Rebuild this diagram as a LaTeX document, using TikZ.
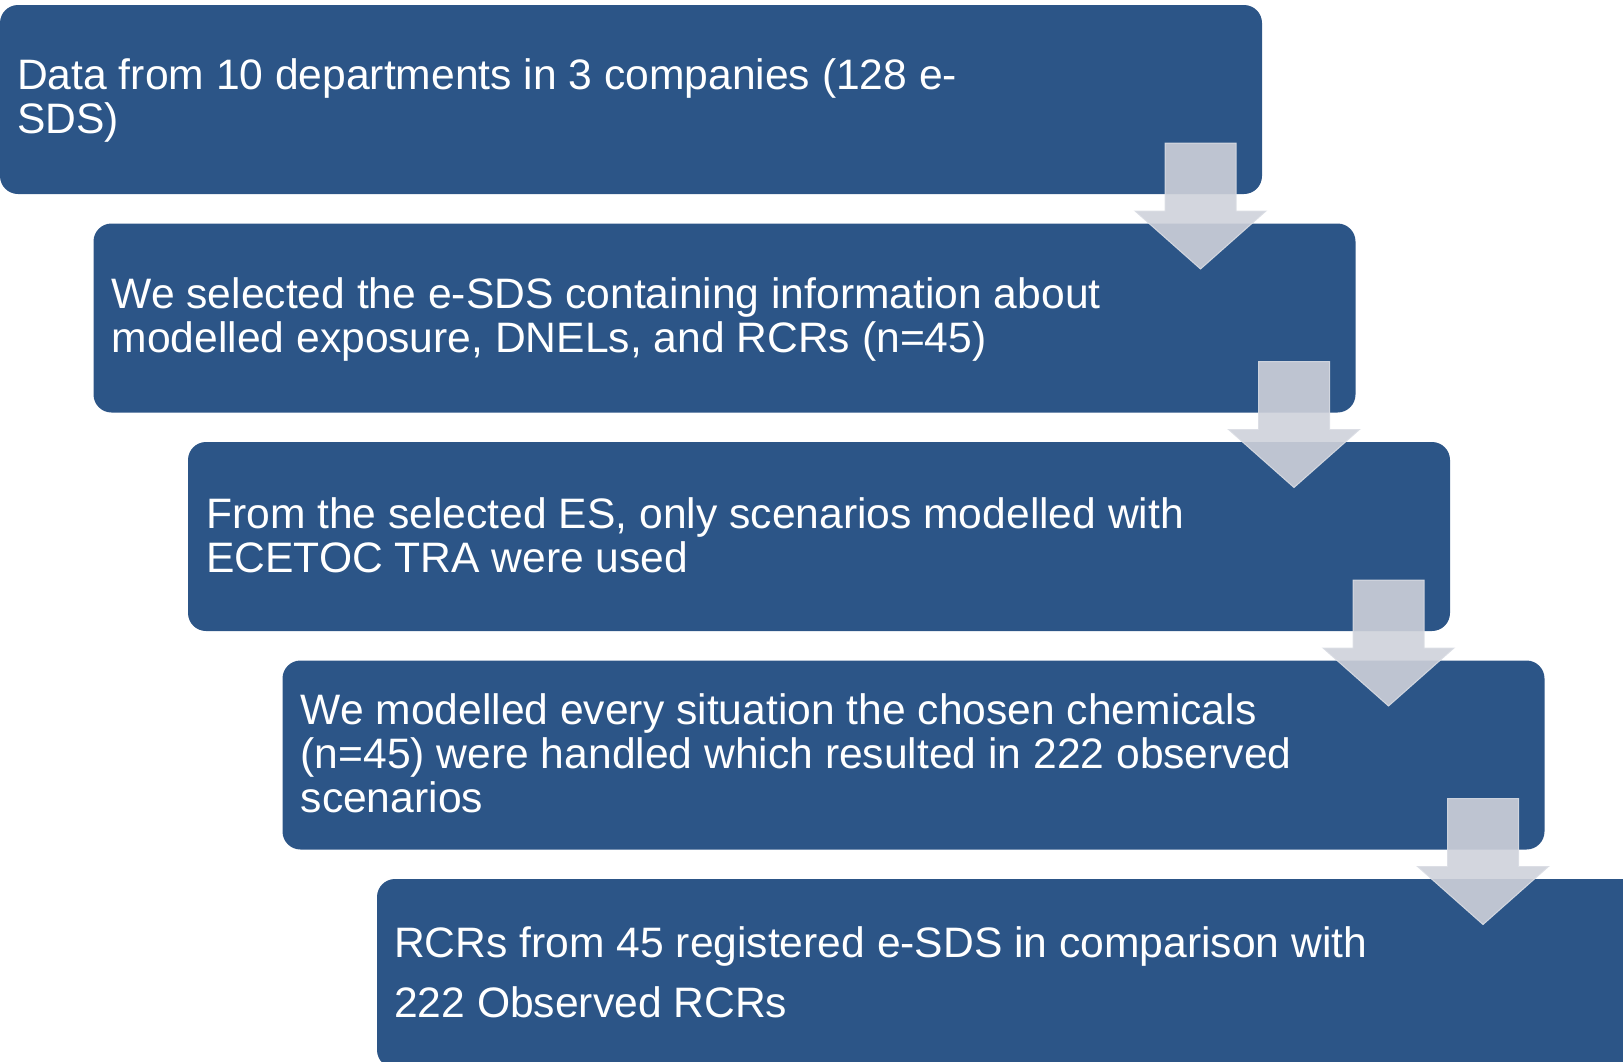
\documentclass[tikz,border=0pt]{standalone}
\usepackage{fontspec}
\setmainfont{Liberation Sans}
\usetikzlibrary{calc}
\definecolor{boxblue}{HTML}{2C5587}
\definecolor{arrowfill}{RGB}{206,209,218}
\definecolor{arrowline}{RGB}{218,221,228}
\tikzset{
  stepbox/.style={rectangle, rounded corners=18pt, fill=boxblue, draw=none,
    minimum width=1262pt, minimum height=189pt, inner sep=0pt, outer sep=0pt, anchor=north west},
  steptext/.style={text=white, align=left, anchor=base west, inner sep=0pt,
    font=\fontsize{42.6}{44}\selectfont},
  downarrow/.style={fill=arrowfill, fill opacity=0.9, draw=arrowline, draw opacity=0.9, line width=1pt}
}
\newcommand{\downarr}[1]{%
  \draw[downarrow]
    ($(#1.north east)+(-97,138)$) -- ($(#1.north east)+(-26,138)$) --
    ($(#1.north east)+(-26,206)$) -- ($(#1.north east)+(4,206)$) --
    ($(#1.north east)+(-61.5,264)$) -- ($(#1.north east)+(-127,206)$) --
    ($(#1.north east)+(-97,206)$) -- cycle;}
\begin{document}
\begin{tikzpicture}[x=1pt,y=-1pt]
\useasboundingbox (0,0) rectangle (1623,1061);
\clip (0,0) rectangle (1623,1061);
\node[stepbox] (b1) at (0,5) {};
\node[stepbox] (b2) at (93.5,223.5) {};
\node[stepbox] (b3) at (188,442) {};
\node[stepbox] (b4) at (282.5,660.5) {};
\node[stepbox] (b5) at (377,879) {};
% base anchor of a multi-line node sits on its last line
\node[steptext] (t1) at ($(b1.north west)+(17,128)$) {Data from 10 departments in 3 companies (128 e-\\SDS)};
\node[steptext] (t2) at ($(b2.north west)+(18,129)$) {We selected the e-SDS containing information about\\modelled exposure, DNELs, and RCRs (n=45)};
\node[steptext] (t3) at ($(b3.north west)+(18,130)$) {From the selected ES, only scenarios modelled with\\ECETOC TRA were used};
\node[steptext] (t4) at ($(b4.north west)+(18,152)$) {We modelled every situation the chosen chemicals\\(n=45) were handled which resulted in 222 observed\\scenarios};
\node[steptext, font=\fontsize{42.6}{60}\selectfont] (t5) at ($(b5.north west)+(17,138)$) {RCRs from 45 registered e-SDS in comparison with\\222 Observed RCRs};
\downarr{b1}
\downarr{b2}
\downarr{b3}
\downarr{b4}
\end{tikzpicture}
\end{document}
